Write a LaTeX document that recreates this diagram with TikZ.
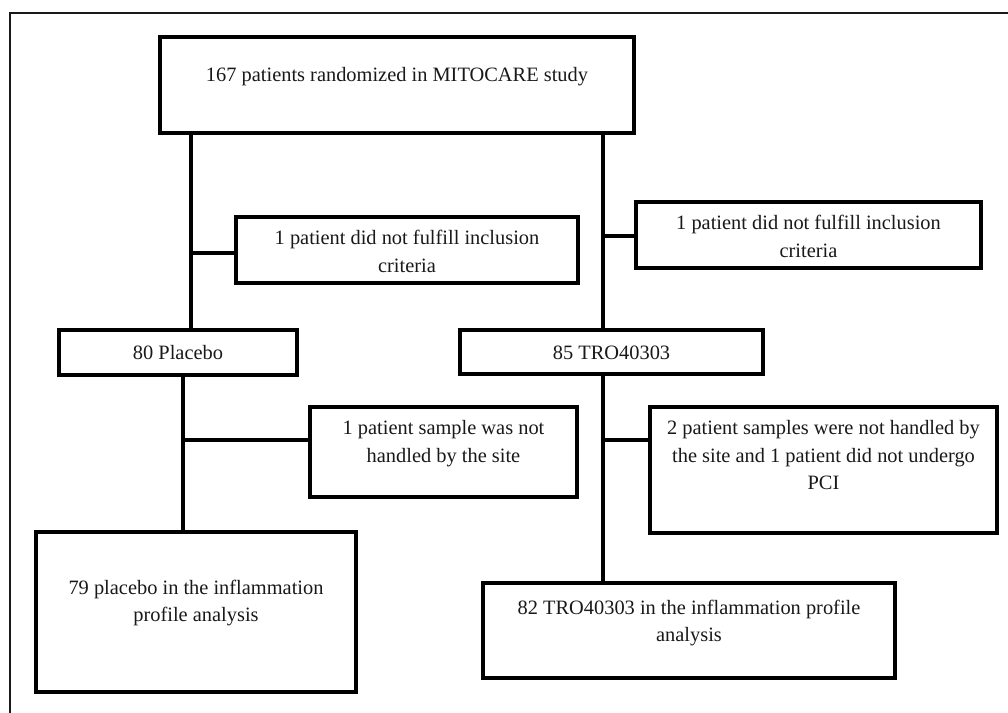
\documentclass[tikz,border=0pt]{standalone}
\usepackage{fontspec}
\setmainfont{Liberation Serif}
\newcommand{\mlines}[1]{\begin{tabular}[t]{@{}c@{}}#1\end{tabular}}
\begin{document}
\begin{tikzpicture}[x=0.75pt,y=-0.75pt,
  box/.style={draw=black, line width=3.3pt, inner sep=0pt, outer sep=0pt, fill=white},
  txt/.style={inner sep=0pt, font=\fontsize{15.3}{20.6}\selectfont, text=black!90, anchor=base},
  conn/.style={draw=black, line width=3.4pt},
  frame/.style={draw=black!90, line width=1.9pt}]
\useasboundingbox (0,0) rectangle (1008,713);
% outer frame (top and left only)
\draw[frame] (10,713) -- (10,13) -- (1008,13);
% connector helper coordinates
\coordinate (xL1) at (191,0);
\coordinate (xL2) at (183,0);
\coordinate (xR)  at (603,0);
\coordinate (jA)  at (191,253);
\coordinate (jB)  at (603,236);
\coordinate (jC)  at (183,440);
\coordinate (jD)  at (603,440);
% boxes
\node[box, minimum width=355.5pt, minimum height=72pt]   (top)   at (397,85)     {};
\node[box, minimum width=256.5pt, minimum height=49.5pt] (incL)  at (407,250)    {};
\node[box, minimum width=258.75pt, minimum height=49.5pt](incR)  at (808.5,235)  {};
\node[box, minimum width=178.5pt, minimum height=33.75pt](plac)  at (178,352.5)  {};
\node[box, minimum width=227.25pt, minimum height=33pt]  (tro)   at (611.5,352)  {};
\node[box, minimum width=200.25pt, minimum height=67.5pt](sampL) at (443.5,452)  {};
\node[box, minimum width=260.25pt, minimum height=94.5pt](sampR) at (823.5,470)  {};
\node[box, minimum width=240pt, minimum height=120pt]    (finL)  at (196,612)    {};
\node[box, minimum width=309pt, minimum height=71.25pt]  (finR)  at (689,630.5)  {};
% connectors
\draw[conn] (top.south -| xL1) -- (plac.north -| xL1);
\draw[conn] (jA) -- (jA -| incL.west);
\draw[conn] (top.south -| xR) -- (tro.north -| xR);
\draw[conn] (jB) -- (jB -| incR.west);
\draw[conn] (plac.south -| xL2) -- (finL.north -| xL2);
\draw[conn] (jC) -- (jC -| sampL.west);
\draw[conn] (tro.south -| xR) -- (finR.north -| xR);
\draw[conn] (jD) -- (jD -| sampR.west);
% texts
\node[txt] (tTop)   at (397,82)    {167 patients randomized in MITOCARE study};
\node[txt] (tIncL)  at (407,245)   {\mlines{1 patient did not fulfill inclusion\\criteria}};
\node[txt] (tIncR)  at (808.5,230) {\mlines{1 patient did not fulfill inclusion\\criteria}};
\node[txt] (tPlac)  at (178,359)   {80 Placebo};
\node[txt] (tTro)   at (611.5,359) {85 TRO40303};
\node[txt] (tSampL) at (443.5,435) {\mlines{1 patient sample was not\\handled by the site}};
\node[txt] (tSampR) at (823.5,435) {\mlines{2 patient samples were not handled by\\the site and 1 patient did not undergo\\PCI}};
\node[txt] (tFinL)  at (196,594)   {\mlines{79 placebo in the inflammation\\profile analysis}};
\node[txt] (tFinR)  at (689,614)   {\mlines{82 TRO40303 in the inflammation profile\\analysis}};
\end{tikzpicture}
\end{document}
